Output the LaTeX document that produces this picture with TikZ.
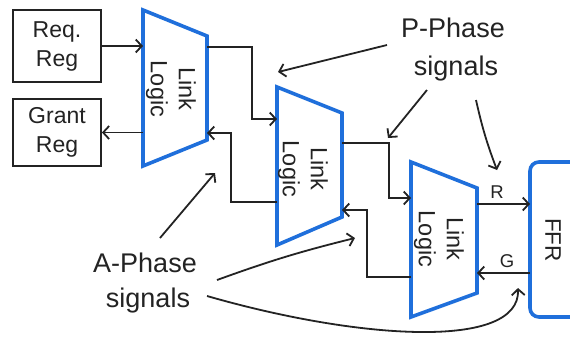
\documentclass[tikz,border=0pt]{standalone}
\usepackage{fontspec}
\setmainfont{Liberation Sans}
\usetikzlibrary{arrows.meta}
\definecolor{lblue}{RGB}{31,111,219}
\definecolor{ink}{RGB}{35,35,35}
\begin{document}
\begin{tikzpicture}[x=1pt,y=-1pt,
  wire/.style={draw=ink, line width=1.8pt},
  arr/.style={wire, -{Straight Barb[length=6pt,width=13pt,line width=1.8pt]}},
  trap/.style={draw=lblue, line width=3.6pt, line join=miter},
  box/.style={draw=ink, line width=1.8pt, minimum width=88pt, align=center, inner sep=0pt, font=\fontsize{23}{29}\selectfont, text=ink},
  ll/.style={rotate=-90, align=center, font=\fontsize{23.5}{28}\selectfont, text=ink},
  big/.style={anchor=base, font=\fontsize{27}{37}\selectfont, text=ink},
  small/.style={font=\fontsize{18.5}{20}\selectfont, text=ink}]
\useasboundingbox (0,0) rectangle (570,341);
\fill[white] (0,0) rectangle (570,341);

% registers
\node[box, minimum height=72pt] (req) at (57,46) {Req.\\Reg};
\node[box, minimum height=67pt] (grant) at (57,132.5) {Grant\\Reg};

% trapezoids
\draw[trap] (143,10) -- (207,36) -- (207,140) -- (143,166) -- cycle;
\draw[trap] (277,87) -- (342,113) -- (342,217) -- (277,245) -- cycle;
\draw[trap] (411,162) -- (477,188) -- (477,293) -- (411,317) -- cycle;
\node[ll] (ll1) at (171,89) {Link\\Logic};
\node[ll] (ll2) at (303,169) {Link\\Logic};
\node[ll] (ll3) at (439,239) {Link\\Logic};

% FFR
\node[draw=lblue, line width=3.6pt, rounded corners=9pt, minimum width=80pt, minimum height=155pt, inner sep=0pt] (ffr) at (570,239.5) {};
\node[rotate=-90, font=\fontsize{22.5}{26}\selectfont, text=ink] (ffrt) at (553,240) {FFR};

% connection points
\coordinate (t1in) at (143,46);
\coordinate (t1gout) at (143,132.5);
\coordinate (t1out) at (207,47);
\coordinate (t1back) at (207,133);
\coordinate (t2in) at (277,119);
\coordinate (t2bout) at (277,202);
\coordinate (t2out) at (342,143);
\coordinate (t2back) at (342,210);
\coordinate (t3in) at (411,198);
\coordinate (t3bout) at (411,277);
\coordinate (t3r) at (477,204);
\coordinate (t3g) at (477,273);
\coordinate (ffrr) at (530,204);
\coordinate (ffrg) at (530,273);

\draw[arr] (req.east) -- (t1in);
\draw[arr] (t1gout) -- (grant.east);
\draw[arr] (t1out) -- (252,47) -- (252,119) -- (t2in);
\draw[arr] (t2bout) -- (231,202) -- (231,133) -- (t1back);
\draw[arr] (t2out) -- (389,143) -- (389,198) -- (t3in);
\draw[arr] (t3bout) -- (367,277) -- (367,210) -- (t2back);
\draw[arr] (t3r) -- (ffrr);
\draw[arr] (ffrg) -- (t3g);
\node[small] (rl) at (497,192) {R};
\node[small] (gl) at (507,261) {G};

% annotations
\node[big] (p1) at (453,37) {P-Phase};
\node[big] (p2) at (456,75) {signals};
\node[big] (a1) at (145,272) {A-Phase};
\node[big] (a2) at (148,307) {signals};

\coordinate (pa1s) at (387,45);
\coordinate (pa1e) at (278,72);
\coordinate (pa2s) at (427,90);
\coordinate (pa2e) at (388,138);
\coordinate (pa3s) at (476,100);
\coordinate (pa3e) at (497,170);
\coordinate (aa1s) at (160,238);
\coordinate (aa1e) at (215,173);
\coordinate (aa2s) at (217,280);
\coordinate (aa2e) at (355,238);
\coordinate (aa3s) at (207,296);
\coordinate (aa3e) at (518,288);

\draw[arr] (pa1s) -- (pa1e);
\draw[arr] (pa2s) -- (pa2e);
\draw[arr] (pa3s) to[bend right=4] (pa3e);
\draw[arr] (aa1s) -- (aa1e);
\draw[arr] (aa2s) to[bend left=3] (aa2e);
\draw[arr] (aa3s) .. controls (360,340) and (520,350) .. (aa3e);
\end{tikzpicture}
\end{document}
